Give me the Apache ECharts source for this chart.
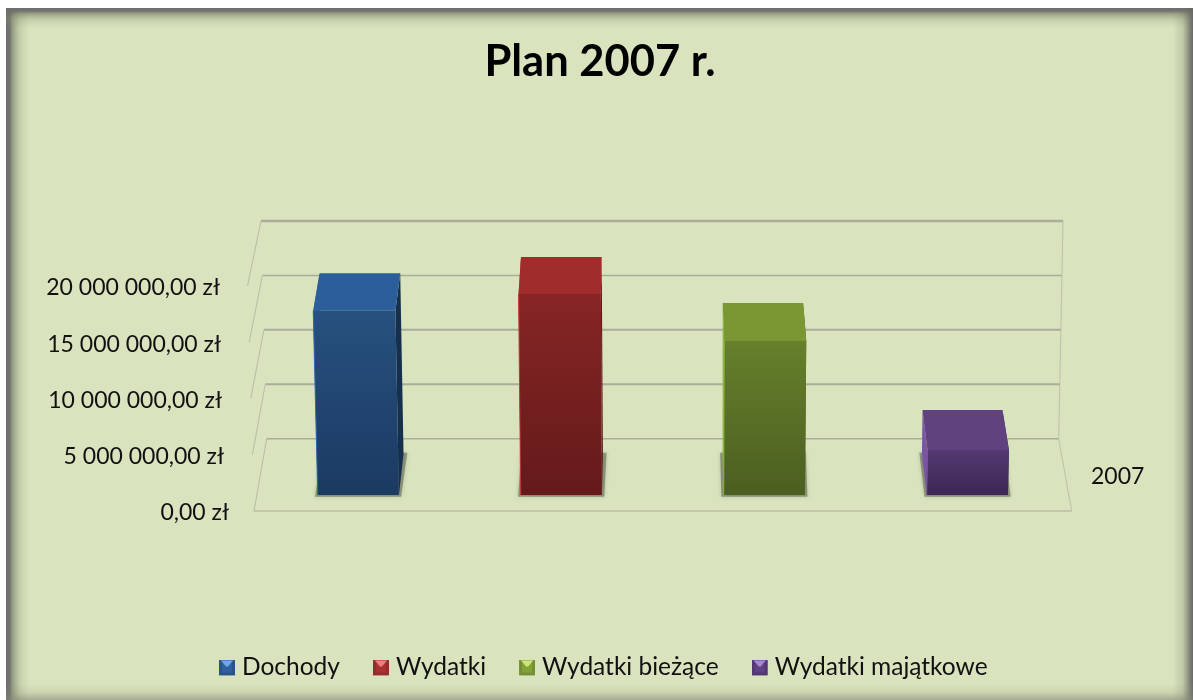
<!DOCTYPE html>
<html><head><meta charset="utf-8">
<style>html,body{margin:0;padding:0;background:#fff}#c{width:1193px;height:700px}</style>
<script src="https://cdn.jsdelivr.net/npm/echarts@6/dist/echarts.min.js"></script>
</head><body><div id="c"></div>
<script>
const titleText = 'Plan 2007 r.';
const categories = ['Dochody', 'Wydatki', 'Wydatki bieżące', 'Wydatki majątkowe'];
const seriesValues = [16500000, 18000000, 13800000, 4030000];
const yTicks = [0, 5000000, 10000000, 15000000, 20000000];
const depthLabel = '2007';

const BG = '#d9e3bd', GRID = '#a9ae9b', FONT = 'Lato, "Open Sans", sans-serif';
const palette = [
  {front:['#27517f','#1b3a62'], top:'#2b5e9b', side:'#152f4d', edge:'#2f6bb0', ic:'#2f5f9e', sd:'#2a5488', hi:'#6fa8e8'},
  {front:['#872525','#641a1a'], top:'#a02c2c', side:'#561818', edge:'#c0393a', ic:'#a83232', sd:'#962c2c', hi:'#ec8080'},
  {front:['#66802c','#4c5e20'], top:'#7a9734', side:'#46581e', edge:'#8db63a', ic:'#84a23a', sd:'#748f33', hi:'#cfe57a'},
  {front:['#533a70','#3d2756'], top:'#60427f', side:'#39254f', edge:'#7b55a5', ic:'#5f4283', sd:'#523872', hi:'#a888d0'}
];
// perspective box corners: [front/back][bottom/top]
const box = {
  fb:{l:254,r:1071.7,y:511}, ft:{l:247.5,r:1078,y:286},
  bb:{l:266.7,r:1058.7,y:438.7}, bt:{l:261,r:1063,y:221}
};
const lerp = (a,b,t)=>a+(b-a)*t;
function P(xn,v,d){
  const l0=lerp(box.fb.l,box.bb.l,d), r0=lerp(box.fb.r,box.bb.r,d), y0=lerp(box.fb.y,box.bb.y,d);
  const l1=lerp(box.ft.l,box.bt.l,d), r1=lerp(box.ft.r,box.bt.r,d), y1=lerp(box.ft.y,box.bt.y,d);
  const l=lerp(l0,l1,v), r=lerp(r0,r1,v);
  return [lerp(l,r,xn), lerp(y0,y1,v)];
}
const poly=(pts,style,z)=>({type:'polygon',shape:{points:pts},style,z2:z||0});
const line=(a,b,w,c)=>({type:'line',shape:{x1:a[0],y1:a[1],x2:b[0],y2:b[1]},style:{stroke:c,lineWidth:w,fill:null}});

function vNorm(api,params,val){
  const s=params.coordSys; return (s.y+s.height-api.coord([0,val])[1])/s.height;
}
const widths=[1.4,2,2,1.4,2.4];
function renderGrid(params,api){
  const v=vNorm(api,params,api.value(1));
  const w=widths[params.dataIndex];
  const ch=[line(P(0,v,1),P(1,v,1),w,GRID), line(P(0,v,1),P(0,v,0),1,'#b7bca8')];
  if(params.dataIndex===0){
    ch.push(line(P(0,0,0),P(1,0,0),1.2,GRID));
    ch.push(line(P(1,0,1),P(1,0,0),1,'#bcc2aa'));
    ch.push(line(P(1,0,1),P(1,1,1),1,'#bcc2aa'));
  }
  return {type:'group',children:ch};
}
const D1=0.221, D2=0.785, BW=0.4;
function renderBar(params,api){
  const s=params.coordSys, c=palette[params.seriesIndex-1];
  const cx=api.coord([api.value(0),0])[0], bw=api.size([1,0])[0];
  const a=(cx-bw*BW/2-s.x)/s.width, b=(cx+bw*BW/2-s.x)/s.width;
  const v=vNorm(api,params,api.value(1));
  const f0=P(a,0,D1),f1=P(b,0,D1),f2=P(b,v,D1),f3=P(a,v,D1);
  const b0=P(a,0,D2),b1=P(b,0,D2),b2=P(b,v,D2),b3=P(a,v,D2);
  const e=0.003;
  const shadow=[P(a-e,0,D1-0.025),P(b+e,0,D1-0.025),P(b+e*1.5,0,D2+0.02),P(a-e,0,D2+0.02)];
  const grad={type:'linear',x:0,y:0,x2:0,y2:1,colorStops:[{offset:0,color:c.front[0]},{offset:1,color:c.front[1]}]};
  return {type:'group',children:[
    poly(shadow,{fill:'rgba(80,86,68,0.5)',shadowBlur:4,shadowColor:'rgba(80,86,68,0.5)'}),
    poly([f0,b0,b3,f3],{fill:c.edge}),
    poly([f1,b1,b2,f2],{fill:c.side}),
    poly([f3,f2,b2,b3],{fill:c.top}),
    poly([f0,f1,f2,f3],{fill:grad}),
    line(f0,f3,1,c.edge)
  ]};
}
function icon(c){
  const svg=`<svg xmlns="http://www.w3.org/2000/svg" width="16" height="16"><rect width="16" height="16" fill="${c.ic}"/><polygon points="0,0 3,3 3,13 0,16" fill="${c.sd}"/><polygon points="16,0 13,3 13,13 16,16" fill="${c.sd}"/><polygon points="0,16 3,13 13,13 16,16" fill="${c.sd}"/><polygon points="2,1 14,1 9,7 7,7" fill="${c.hi}"/></svg>`;
  return 'image://data:image/svg+xml,'+encodeURIComponent(svg);
}
function edge(x,y,w,h,x2,y2,stops){
  return {type:'rect',shape:{x,y,width:w,height:h},silent:true,style:{fill:{type:'linear',x:0,y:0,x2,y2,colorStops:stops.map(s=>({offset:s[0],color:s[1]}))}}};
}
const fadeStrong=[[0,'rgba(110,110,110,1)'],[0.15,'rgba(110,110,105,.95)'],[0.28,'rgba(110,115,95,.6)'],[0.6,'rgba(130,140,110,.22)'],[1,'rgba(150,160,130,0)']];
const fadeSoft=[[0,'rgba(130,135,115,0)'],[0.5,'rgba(130,135,115,.15)'],[1,'rgba(130,135,115,.6)']];
const fadeRight=[[0,'rgba(110,115,100,0)'],[0.5,'rgba(110,115,100,.25)'],[0.85,'rgba(105,105,100,.8)'],[1,'rgba(105,105,105,1)']];

const chart=echarts.init(document.getElementById('c'));
const pad={0:0,5000000:5,10000000:7,15000000:8,20000000:9};
function fmt(v){return String(v).replace(/\B(?=(\d{3})+$)/g,' ')+',00 zł';}
chart.setOption({
  animation:false,
  backgroundColor:'#fff',
  title:{text:titleText,left:595,top:35,textAlign:'center',textStyle:{fontFamily:FONT,fontSize:43.5,fontWeight:'bold',color:'#000'}},
  grid:{left:254,width:817.7,top:286,height:225,containLabel:false},
  xAxis:{type:'category',data:categories,show:false,boundaryGap:true},
  yAxis:{type:'value',min:0,max:20000000,interval:5000000,
    axisLine:{show:false},axisTick:{show:false},splitLine:{show:false},
    axisLabel:{margin:25,align:'right',color:'#111',fontFamily:FONT,fontSize:23,
      formatter:v=>`{t${pad[v]}|${fmt(v)}}`,
      rich:Object.fromEntries(Object.values(pad).map(p=>['t'+p,{padding:[4,p,0,0],fontFamily:FONT,fontSize:23,color:'#111'}]))}},
  legend:{data:categories.map((n,i)=>({name:n,icon:icon(palette[i])})),left:214,top:650,itemWidth:16,itemHeight:16,itemGap:33,
    textStyle:{fontFamily:FONT,fontSize:24.5,color:'#111',padding:[0,0,0,2]}},
  graphic:{elements:[
    {type:'rect',shape:{x:6,y:8,width:1187,height:692},silent:true,style:{fill:BG},z:-10},
    Object.assign(edge(6,8,24,692,1,0,fadeStrong),{z:-9}),
    Object.assign(edge(6,8,1187,20,0,1,fadeStrong),{z:-9}),
    Object.assign(edge(1173,8,20,692,1,0,fadeRight),{z:-9}),
    Object.assign(edge(6,684,1187,16,0,1,fadeSoft),{z:-9}),
    {type:'text',left:1091,top:465,style:{text:depthLabel,fontFamily:FONT,fontSize:23,fill:'#111'}}
  ]},
  series:[
    {type:'custom',name:'grid',renderItem:renderGrid,silent:true,encode:{x:0,y:1},
     data:yTicks.map(t=>[0,t]),z:1},
    ...categories.map((n,i)=>({type:'custom',name:n,renderItem:renderBar,encode:{x:0,y:1},
      itemStyle:{color:palette[i].ic},data:[[i,seriesValues[i]]],z:2}))
  ]
});
</script></body></html>
